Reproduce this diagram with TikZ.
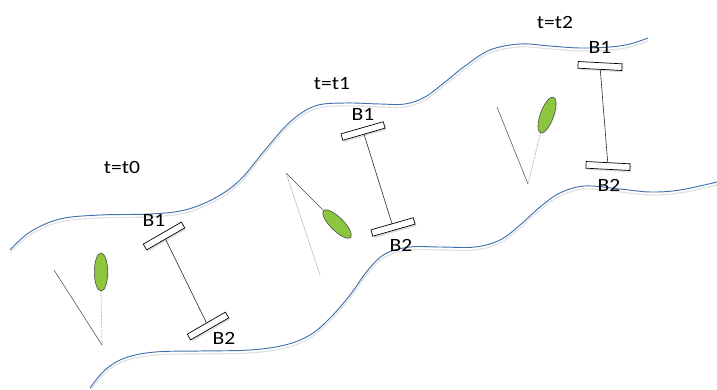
\documentclass[tikz,border=0pt]{standalone}
\usepackage{fontspec}
\setmainfont{Carlito}
\usetikzlibrary{shapes.geometric,shadows}

\newcommand{\lbl}[1]{\scalebox{1.15}[1]{#1}}

\begin{document}
\begin{tikzpicture}[x=0.03cm, y=-0.03cm,
    bank/.style={draw={rgb,255:red,66;green,114;blue,172}, line width=0.8pt},
    bankshadow/.style={draw=black!12, line width=1pt},
    bar/.style={draw, fill=white, line width=0.6pt, minimum width=1.32cm, minimum height=0.2cm, inner sep=0pt,
        drop shadow={shadow xshift=1.2pt, shadow yshift=-1.5pt, fill=black!25}},
    link/.style={draw=black!85, line width=0.5pt},
    boat/.style={ellipse, draw=black!70, fill={rgb,255:red,140;green,198;blue,63}, line width=0.5pt,
        minimum width=1.14cm, minimum height=0.4cm, inner sep=0pt,
        drop shadow={shadow xshift=1pt, shadow yshift=-1pt, fill=black!15}},
    tail/.style={draw=black!50, densely dotted, line width=0.6pt},
    wake/.style={draw=black!70, line width=0.45pt},
    tag/.style={font=\fontsize{16}{19}\selectfont, inner sep=0pt}
]
    \useasboundingbox (0,0) rectangle (717,390);

    % river banks, each with a faint shadow below
    \draw[bankshadow, yshift=-2.5pt] plot[smooth, tension=0.6] coordinates {(10,250) (30,232) (60,219) (100,215) (150,214) (185,210) (215,198) (240,180) (265,150) (290,122) (315,106) (345,103) (380,104) (405,104) (425,97) (445,82) (465,66) (490,50) (520,44) (550,46) (580,48) (610,47) (630,44) (648,38)};
    \draw[bank] plot[smooth, tension=0.6] coordinates {(10,250) (30,232) (60,219) (100,215) (150,214) (185,210) (215,198) (240,180) (265,150) (290,122) (315,106) (345,103) (380,104) (405,104) (425,97) (445,82) (465,66) (490,50) (520,44) (550,46) (580,48) (610,47) (630,44) (648,38)};
    \draw[bankshadow, yshift=-2.5pt] plot[smooth, tension=0.6] coordinates {(90,388) (105,370) (125,358) (155,352) (200,351) (250,350) (285,345) (310,335) (330,318) (350,295) (368,270) (385,254) (410,247) (440,247) (475,247) (500,240) (520,225) (540,207) (560,193) (585,186) (620,189) (650,192) (680,190) (717,182)};
    \draw[bank] plot[smooth, tension=0.6] coordinates {(90,388) (105,370) (125,358) (155,352) (200,351) (250,350) (285,345) (310,335) (330,318) (350,295) (368,270) (385,254) (410,247) (440,247) (475,247) (500,240) (520,225) (540,207) (560,193) (585,186) (620,189) (650,192) (680,190) (717,182)};

    % time labels
    \node[tag] (t0) at (122,167) {\lbl{t=t0}};
    \node[tag] (t1) at (332,84) {\lbl{t=t1}};
    \node[tag] (t2) at (555,22) {\lbl{t=t2}};

    % t0
    \node[boat, rotate=90] (boat0) at (101,272) {};
    \coordinate (v0) at (102,345);
    \coordinate (w0) at (54,270);
    \draw[tail] (boat0.west) -- (v0);
    \draw[wake] (v0) -- (w0);
    \node[bar, rotate=30] (b1a) at (164,236) {};
    \node[bar, rotate=30] (b2a) at (208,326) {};
    \draw[link] (b1a) -- (b2a);
    \node[tag] (lb1a) at (154,220) {\lbl{B1}};
    \node[tag] (lb2a) at (224,338) {\lbl{B2}};

    % t1
    \node[boat, rotate=-45] (boat1) at (337,224) {};
    \coordinate (v1) at (286,173);
    \coordinate (w1) at (320,275);
    \draw[wake] (boat1.west) -- (v1);
    \draw[tail] (v1) -- (w1);
    \node[bar, rotate=16] (b1b) at (363,131) {};
    \node[bar, rotate=16] (b2b) at (393,227) {};
    \draw[link] (b1b) -- (b2b);
    \node[tag] (lb1b) at (363,114) {\lbl{B1}};
    \node[tag] (lb2b) at (401,245) {\lbl{B2}};

    % t2
    \node[boat, rotate=70] (boat2) at (547,115) {};
    \coordinate (v2) at (528,184);
    \coordinate (w2) at (497,107);
    \draw[tail] (boat2.west) -- (v2);
    \draw[wake] (v2) -- (w2);
    \node[bar, rotate=-3] (b1c) at (600,66) {};
    \node[bar, rotate=-3] (b2c) at (608,166) {};
    \draw[link] (b1c) -- (b2c);
    \node[tag] (lb1c) at (600,47) {\lbl{B1}};
    \node[tag] (lb2c) at (609,185) {\lbl{B2}};
\end{tikzpicture}
\end{document}
